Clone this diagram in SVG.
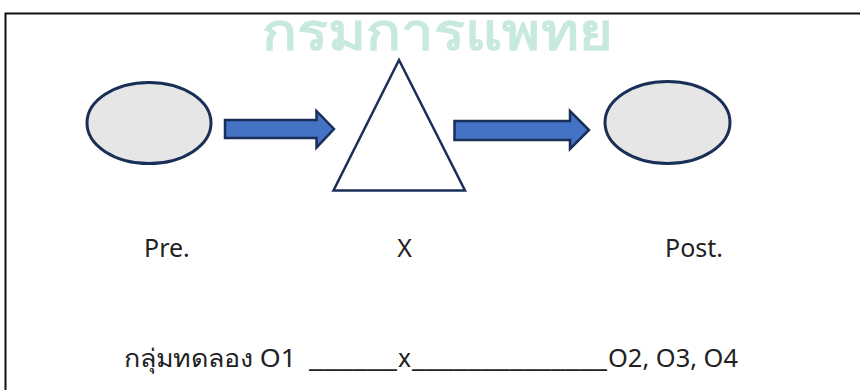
<svg xmlns="http://www.w3.org/2000/svg" width="860" height="390" viewBox="0 0 860 390">
<style>
.lbl{font-family:"Noto Sans","Liberation Sans",sans-serif;font-size:25px;fill:#222}
.oval{fill:#e6e6e6;stroke:#1a2f57;stroke-width:3}
.arr{fill:#4472c4;stroke:#1a2f57;stroke-width:2.5;stroke-linejoin:miter}
</style>
<rect x="0" y="0" width="860" height="390" fill="#fff"/>
<rect x="5.5" y="13.5" width="870" height="400" fill="none" stroke="#111" stroke-width="2"/>
<text x="262" y="50" textLength="351" lengthAdjust="spacingAndGlyphs" font-family="Noto Sans,sans-serif" font-size="51" font-weight="bold" fill="#c8eadc">กรมการแพทย</text>
<g id="pre"><ellipse class="oval" cx="149" cy="123" rx="62" ry="40.5"/></g>
<g id="x"><polygon points="399,60 333.5,190.5 465,190.5" fill="#fff" stroke="#1a2f57" stroke-width="2.5"/></g>
<g id="post"><ellipse class="oval" cx="667.5" cy="122.5" rx="62.5" ry="41"/></g>
<g id="connectors">
<polygon class="arr" points="225,120 316.5,120 316.5,111 334,129 316.5,147.5 316.5,138 225,138"/>
<polygon class="arr" points="454.5,121 570,121 570,111 589,130 570,149 570,140 454.5,140"/>
</g>
<text class="lbl" x="144" y="257">Pre.</text>
<text class="lbl" x="404.7" y="257" text-anchor="middle">X</text>
<text class="lbl" x="665" y="257">Post.</text>
<g id="design-row">
<text class="lbl" x="124" y="367" textLength="172" lengthAdjust="spacingAndGlyphs">กลุ่มทดลอง O1</text>
<text class="lbl" x="309" y="367" textLength="88" lengthAdjust="spacingAndGlyphs">______</text>
<text class="lbl" x="398" y="367" textLength="13" lengthAdjust="spacingAndGlyphs">x</text>
<text class="lbl" x="412" y="367" textLength="195" lengthAdjust="spacingAndGlyphs">______________</text>
<text class="lbl" x="608" y="367" textLength="130" lengthAdjust="spacingAndGlyphs">O2, O3, O4</text>
</g>
</svg>
